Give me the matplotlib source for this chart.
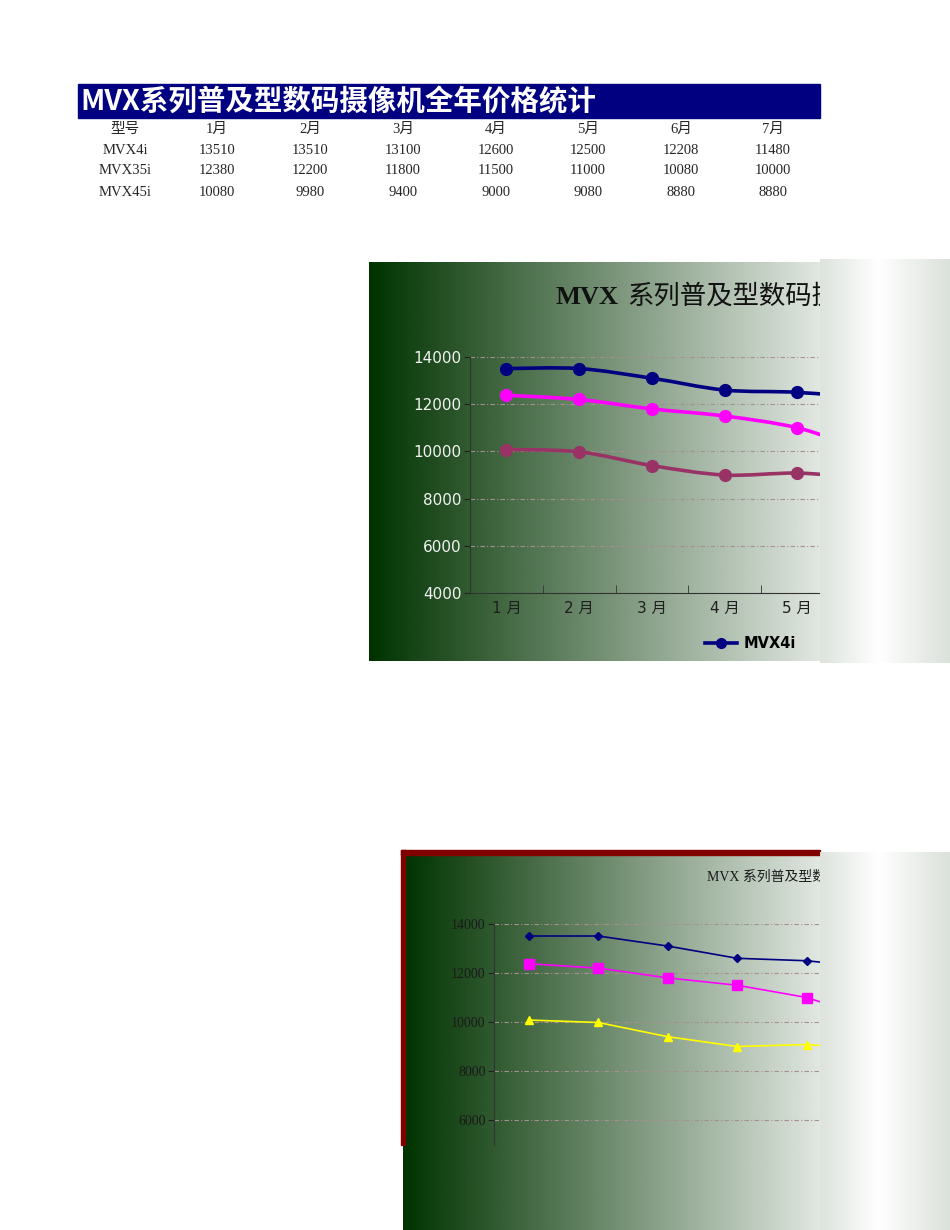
import numpy as np
import matplotlib
matplotlib.use("Agg")
import matplotlib.pyplot as plt
from matplotlib.colors import LinearSegmentedColormap
from matplotlib.lines import Line2D
from matplotlib.patches import PathPatch, Rectangle
from matplotlib.path import Path

# 数据
months = ['1月', '2月', '3月', '4月', '5月', '6月', '7月']
models = ['MVX4i', 'MVX35i', 'MVX45i']
mvx4i = [13510, 13510, 13100, 12600, 12500, 12208, 11480]
mvx35i = [12380, 12200, 11800, 11500, 11000, 10080, 10000]
mvx45i = [10080, 9980, 9400, 9000, 9080, 8880, 8880]
series = [mvx4i, mvx35i, mvx45i]
y_ticks = [4000, 6000, 8000, 10000, 12000, 14000]

title = 'MVX系列普及型数码摄像机全年价格统计'
chart_title = 'MVX 系列普及型数码摄像机全年价格统计'

W, H = 950, 1230
SERIF = ['Liberation Serif', 'Noto Sans CJK SC']
SANS = ['DejaVu Sans', 'Noto Sans CJK SC']

fig = plt.figure(figsize=(W / 100, H / 100), dpi=100)


def px_axes(x0, y0, x1, y1, **kw):
    # 像素坐标 -> figure 坐标
    return fig.add_axes([x0 / W, 1 - y1 / H, (x1 - x0) / W, (y1 - y0) / H], **kw)


def fx(x):
    return x / W


def fy(y):
    return 1 - y / H


def gradient(ax, colors, t0=0.0, t1=1.0):
    cmap = LinearSegmentedColormap.from_list('g', colors)
    g = np.linspace(t0, t1, 400).reshape(1, -1)
    ax.imshow(g, cmap=cmap, vmin=0, vmax=1, aspect='auto', extent=[0, 1, 0, 1])
    ax.set_axis_off()


def smooth_path(xs, ys):
    # Excel 风格的平滑线 (Bezier)
    n = len(xs)
    verts = [(xs[0], ys[0])]
    codes = [Path.MOVETO]
    for i in range(n - 1):
        a = i - 1 if i > 0 else i
        d = i + 2 if i + 2 < n else i + 1
        c1 = (xs[i] + (xs[i + 1] - xs[a]) / 6, ys[i] + (ys[i + 1] - ys[a]) / 6)
        c2 = (xs[i + 1] - (xs[d] - xs[i]) / 6, ys[i + 1] - (ys[d] - ys[i]) / 6)
        verts += [c1, c2, (xs[i + 1], ys[i + 1])]
        codes += [Path.CURVE4] * 3
    return Path(verts, codes)


# ---------------- 表格 ----------------
fig.patches.append(Rectangle((fx(78), fy(118)), fx(820) - fx(78), fy(84) - fy(118),
                             transform=fig.transFigure, color='#000080'))
fig.text(fx(80), fy(102), title, color='white', fontsize=20.5, fontweight='bold',
         family='Noto Sans CJK SC', ha='left', va='center')

col_x = [125, 217, 310, 403, 496, 588, 681, 773]
row_y = [129, 150, 171, 192]
header = ['型号'] + months
rows = [header] + [[m] + [str(v) for v in s] for m, s in zip(models, series)]
for r, row in enumerate(rows):
    for c, cell in enumerate(row):
        fig.text(fx(col_x[c]), fy(row_y[r]), cell, fontsize=10.5, family=SERIF,
                 color='#262626', ha='center', va='center')

# ---------------- 图表1 (平滑线) ----------------
bg1 = px_axes(369, 262, 820, 661)
gradient(bg1, ['#003300', '#ffffff'], 0.0, 0.88)

ax1 = px_axes(470, 357, 820, 593)
ax1.set_facecolor('none')
x = np.arange(len(months))
colors1 = ['#000080', '#ff00ff', '#993366']
for s, c in zip(series, colors1):
    ax1.add_patch(PathPatch(smooth_path(x, s), fill=False, edgecolor=c, lw=2.6,
                            capstyle='round', zorder=3))
    ax1.plot(x, s, ls='none', marker='o', ms=8.5, color=c, zorder=4)

ax1.set_yticks(y_ticks)
ax1.set_xticks(x)
ax1.set_xticklabels([m.replace('月', ' 月') for m in months], family=SANS,
                    fontsize=11, color='#1e1e1e')
ax1.set_xticks(x[:-1] + 0.5, minor=True)
cat_w = 72.75
ax1.set_xlim(-0.5, -0.5 + (820 - 470) / cat_w)
ax1.set_ylim(4000, 14000)
ax1.tick_params(axis='x', which='major', length=0, pad=6)
ax1.tick_params(axis='x', which='minor', direction='in', length=6, color='#333333')
ax1.tick_params(axis='y', direction='out', length=4, color='#222222', pad=2,
                labelsize=11, labelcolor='#f2f2f2')
for lab in ax1.get_yticklabels():
    lab.set_family('DejaVu Sans')
for g in y_ticks[1:]:
    ax1.axhline(g, color='#a88f8f', lw=0.8, ls=(0, (4, 2, 1, 2)), zorder=1)
ax1.spines['top'].set_visible(False)
ax1.spines['right'].set_visible(False)
ax1.spines['left'].set_color('#333333')
ax1.spines['bottom'].set_color('#333333')

bg1.text(fx(556), fy(297), 'MVX', transform=fig.transFigure, fontsize=19,
         fontweight='bold', family='Liberation Serif', ha='left', va='center',
         color='#111111')
bg1.text(fx(627), fy(297), chart_title[4:], transform=fig.transFigure, fontsize=19,
         family='Noto Sans CJK SC', ha='left', va='center', color='#111111')

handles = [Line2D([], [], color=c, lw=2.6, marker='o', ms=7) for c in colors1]
fig.legend(handles, models, loc='center left', bbox_to_anchor=(fx(698), fy(644)),
           ncol=3, frameon=False, borderpad=0, handlelength=2.2, handletextpad=0.45,
           prop={'family': 'DejaVu Sans', 'weight': 'bold', 'size': 10.5})

# ---------------- 图表2 (折线) ----------------
bg2 = px_axes(403, 852, 820, 1230)
gradient(bg2, ['#003300', '#ffffff'], 0.0, 0.88)
fig.patches.append(Rectangle((fx(401), fy(1145)), fx(405) - fx(401), fy(850) - fy(1145),
                             transform=fig.transFigure, color='#800000', zorder=5))
fig.patches.append(Rectangle((fx(401), fy(855)), fx(820) - fx(401), fy(850) - fy(855),
                             transform=fig.transFigure, color='#800000', zorder=5))

ax2 = px_axes(494, 924, 820, 1145)
ax2.set_facecolor('none')
colors2 = ['#000080', '#ff00ff', '#ffff00']
markers2 = [('D', 4.2), ('s', 6.5), ('^', 6)]
for s, c, (mk, ms) in zip(series, colors2, markers2):
    ax2.plot(x, s, color=c, lw=1.2, marker=mk, ms=ms, zorder=3)
ax2.set_yticks(y_ticks[1:])
ax2.set_xticks([])
ax2.set_xlim(-0.5, -0.5 + (820 - 494) / 69.5)
ax2.set_ylim(4980, 14000)
ax2.tick_params(axis='y', direction='out', length=4, color='#222222', pad=2,
                labelsize=10, labelcolor='#1a1a1a')
for lab in ax2.get_yticklabels():
    lab.set_family('Liberation Serif')
for g in y_ticks[1:]:
    ax2.axhline(g, color='#a88f8f', lw=0.8, ls=(0, (4, 2, 1, 2)), zorder=1)
for side in ['top', 'right', 'bottom']:
    ax2.spines[side].set_visible(False)
ax2.spines['left'].set_color('#333333')

bg2.text(fx(707), fy(877), chart_title, transform=fig.transFigure, fontsize=10,
         family=SERIF, ha='left', va='center', color='#1a1a1a')

# ---------------- 右侧被截断的面板 ----------------
panel_colors = [(0, '#dde3dd'), (0.45, '#ffffff'), (1, '#dbe1db')]
p1 = px_axes(820, 259, 950, 663, zorder=10)
gradient(p1, panel_colors)
p2 = px_axes(820, 852, 950, 1230, zorder=10)
gradient(p2, panel_colors)

fig.savefig('out.png', dpi=100)
